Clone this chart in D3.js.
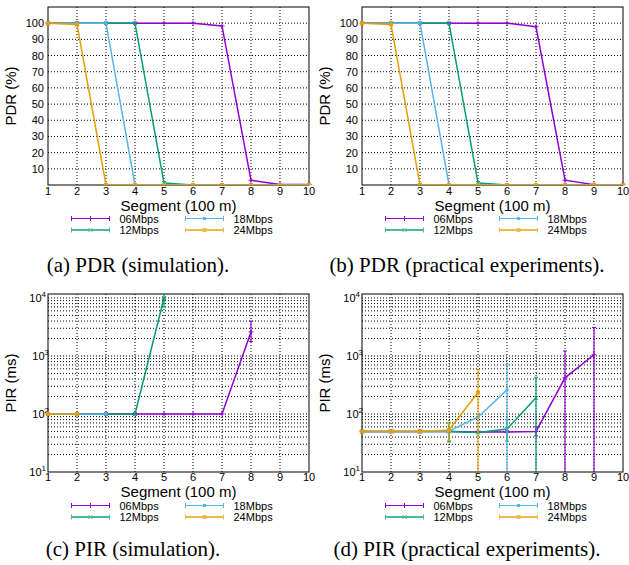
<!DOCTYPE html>
<meta charset="utf-8">
<style>
  body { margin: 0; background: #fff; }
  svg text { font-family: "Liberation Sans", Arial, sans-serif; fill: #000; }
  .caption { font-family: "Liberation Serif", "Times New Roman", serif !important; font-size: 21px; }
  .grid line { stroke: #000; stroke-width: 1; stroke-dasharray: 1,2; }
  .border { fill: none; stroke: #000; stroke-width: 1; }
  .tick-label { font-size: 11px; }
  .axis-label { font-size: 15px; }
  .legend text { font-size: 11px; }
</style>
<body>
<script src="https://d3js.org/d3.v7.min.js"></script>
<script>

// segments along the road (100 m each)
var segments = [1, 2, 3, 4, 5, 6, 7, 8, 9, 10];
var rateNames = ["06Mbps", "12Mbps", "18Mbps", "24Mbps"];
var rateColors = ["#9400d3", "#009e73", "#56b4e9", "#e69f00"];

// PDR (%) - simulation
var pdrSim06 = [100, 100, 100, 100, 100, 100, 98.3, 2.9, 0.3, 0.3];
var pdrSim12 = [100, 100, 100, 100, 1.2, 0, 0, 0, 0, 0];
var pdrSim18 = [100, 100, 100, 0, 0, 0, 0, 0, 0, 0];
var pdrSim24 = [100, 99.2, 0, 0, 0, 0, 0, 0, 0, 0];

// PDR (%) - practical experiments
var pdrExp06 = [100, 100, 100, 100, 100, 100, 97.8, 3, 0.2, 0.2];
var pdrExp12 = [100, 100, 100, 100, 1.2, 0, 0, 0, 0, 0];
var pdrExp18 = [100, 100, 100, 0, 0, 0, 0, 0, 0, 0];
var pdrExp24 = [100, 99.2, 0, 0, 0, 0, 0, 0, 0, 0];

// PIR (ms) - simulation (only segments that were reached)
var pirSim06 = [100, 100, 100, 100, 100, 100, 100, 2600];
var pirSim06Lo = [null, null, null, null, null, null, null, 1780];
var pirSim06Hi = [null, null, null, null, null, null, null, 4000];
var pirSim12 = [100, 100, 100, 100, 10000];
var pirSim12Lo = [null, null, null, null, 7000];
var pirSim12Hi = [null, null, null, null, 13000];
var pirSim18 = [100, 100, 100];
var pirSim24 = [100, 100];

// PIR (ms) - practical experiments
var pirExp06 = [50, 50, 50, 50, 49, 49, 50, 420, 1050];
var pirExp06Lo = [null, null, null, null, null, null, 42, 1, 1];
var pirExp06Hi = [null, null, null, null, null, null, 60, 1220, 3100];
var pirExp12 = [50, 50, 50, 50, 48, 55, 190];
var pirExp12Lo = [null, null, null, 33, null, 34, 1];
var pirExp12Hi = [null, null, null, 70, null, 80, 430];
var pirExp18 = [50, 50, 50, 51, 88, 260];
var pirExp18Lo = [null, null, null, null, null, 1];
var pirExp18Hi = [null, null, null, null, null, 700];
var pirExp24 = [50, 50, 50, 53, 235];
var pirExp24Lo = [null, null, null, 35, 1];
var pirExp24Hi = [null, null, null, 68, 580];

var svg = d3.select("body").append("svg")
    .attr("width", 629)
    .attr("height", 565);

function series(values, lo, hi) {
  return values.map(function(v, i) {
    return {x: segments[i], y: v, lo: lo ? lo[i] : null, hi: hi ? hi[i] : null};
  });
}

function drawMarker(g, k, cx, cy, color) {
  if (k === 0) {
    g.append("path").attr("d", "M" + (cx - 2.5) + "," + cy + "h5M" + cx + "," + (cy - 2.5) + "v5")
      .attr("stroke", color).attr("stroke-width", 1);
  } else if (k === 1) {
    g.append("path").attr("d", "M" + (cx - 2) + "," + (cy - 2) + "l4,4M" + (cx - 2) + "," + (cy + 2) + "l4,-4")
      .attr("stroke", color).attr("stroke-width", 1);
  } else {
    var s = k === 2 ? 3 : 4;
    g.append("rect").attr("x", cx - s / 2).attr("y", cy - s / 2)
      .attr("width", s).attr("height", s).attr("fill", color);
  }
}

var panelId = 0;
function drawPanel(p) {
  panelId++;
  var x = d3.scaleLinear().domain([1, 10]).range([p.left, p.right]);
  var y = p.log
      ? d3.scaleLog().domain([10, 11700]).range([p.bottom, p.top])
      : d3.scaleLinear().domain([0, 110]).range([p.bottom, p.top]);

  var g = svg.append("g");

  // grid
  var grid = g.append("g").attr("class", "grid");
  grid.selectAll(".gx").data(segments.slice(1, 9)).enter().append("line")
      .attr("x1", function(d) { return x(d); }).attr("x2", function(d) { return x(d); })
      .attr("y1", p.top).attr("y2", p.bottom);
  var yGrid = [];
  if (p.log) {
    [10, 100, 1000].forEach(function(dec) {
      for (var m = 1; m <= 9; m++) yGrid.push(dec * m);
    });
    yGrid.push(10000);
    yGrid = yGrid.filter(function(v) { return v > 10; });
  } else {
    yGrid = d3.range(10, 101, 10);
  }
  grid.selectAll(".gy").data(yGrid).enter().append("line")
      .attr("x1", p.left).attr("x2", p.right)
      .attr("y1", function(d) { return y(d); }).attr("y2", function(d) { return y(d); });

  // border
  g.append("rect").attr("class", "border")
      .attr("x", p.left).attr("y", p.top)
      .attr("width", p.right - p.left).attr("height", p.bottom - p.top);

  // x tick labels
  g.selectAll(".xt").data(segments).enter().append("text")
      .attr("class", "tick-label")
      .attr("x", function(d) { return x(d); })
      .attr("y", p.bottom + p.xTickGap)
      .attr("text-anchor", "middle")
      .text(function(d) { return d; });

  // y tick labels
  if (p.log) {
    [1, 2, 3, 4].forEach(function(e) {
      var t = g.append("text").attr("class", "tick-label")
          .attr("x", p.left + (e === 2 || e === 3 ? 1 : -2)).attr("y", y(Math.pow(10, e)) + 4)
          .attr("text-anchor", "end");
      t.append("tspan").text("10");
      t.append("tspan").attr("dy", -5).attr("font-size", "8px").text(e);
    });
  } else {
    g.selectAll(".yt").data(d3.range(10, 101, 10)).enter().append("text")
        .attr("class", "tick-label")
        .attr("x", p.left - 4)
        .attr("y", function(d) { return y(d) + 4; })
        .attr("text-anchor", "end")
        .text(function(d) { return d; });
  }

  // axis labels
  g.append("text").attr("class", "axis-label")
      .attr("x", (p.left + p.right) / 2).attr("y", p.bottom + p.segGap)
      .attr("text-anchor", "middle").text("Segment (100 m)");
  g.append("text").attr("class", "axis-label")
      .attr("transform", "translate(" + (p.left - 32) + "," + ((p.top + p.bottom) / 2) + ") rotate(-90)")
      .attr("text-anchor", "middle").text(p.yLabel);

  // data
  var clipId = "clip" + panelId;
  g.append("clipPath").attr("id", clipId).append("rect")
      .attr("x", p.left - 3).attr("y", p.top)
      .attr("width", p.right - p.left + 6).attr("height", p.bottom - p.top);
  var plot = g.append("g").attr("clip-path", "url(#" + clipId + ")");
  var line = d3.line().x(function(d) { return x(d.x); }).y(function(d) { return y(d.y); });

  p.series.forEach(function(data, k) {
    var color = rateColors[k];
    var sg = plot.append("g");
    data.forEach(function(d) {
      if (d.lo == null) return;
      var lo = Math.max(d.lo, 1);
      sg.append("line").attr("x1", x(d.x)).attr("x2", x(d.x))
          .attr("y1", y(lo)).attr("y2", y(d.hi))
          .attr("stroke", color).attr("stroke-width", 1.2);
      [lo, d.hi].forEach(function(v) {
        sg.append("line").attr("x1", x(d.x) - 2).attr("x2", x(d.x) + 2)
            .attr("y1", y(v)).attr("y2", y(v))
            .attr("stroke", color).attr("stroke-width", 1);
      });
    });
    sg.append("path").datum(data)
        .attr("d", line).attr("fill", "none")
        .attr("stroke", color).attr("stroke-width", 1.5);
    data.forEach(function(d) { drawMarker(sg, k, x(d.x), y(d.y), color); });
  });

  // legend
  var lg = g.append("g").attr("class", "legend");
  rateNames.forEach(function(name, k) {
    var col = k === 0 || k === 1 ? 0 : 1;
    var row = k === 0 || k === 2 ? 0 : 1;
    var x0 = p.left + 23.5 + col * 114;
    var ly = p.bottom + 33.5 + row * 11.5;
    var color = rateColors[k];
    var thick = k === 1 || k === 3;
    var item = lg.append("g").attr("opacity", thick ? 0.7 : 1);
    item.append("line").attr("x1", x0).attr("x2", x0 + 38).attr("y1", ly).attr("y2", ly)
        .attr("stroke", color).attr("stroke-width", thick ? 2 : 1);
    [x0, x0 + 38].forEach(function(cx) {
      item.append("line").attr("x1", cx).attr("x2", cx).attr("y1", ly - 2.5).attr("y2", ly + 2.5)
          .attr("stroke", color).attr("stroke-width", 1);
    });
    drawMarker(item, k, x0 + 19, ly, color);
    lg.append("text").attr("x", x0 + 48).attr("y", ly + 4).text(name);
  });

  // caption
  svg.append("text").attr("class", "caption")
      .attr("x", p.captionX).attr("y", p.captionY)
      .attr("text-anchor", "middle").text(p.caption);
}

drawPanel({
  left: 48, right: 309, top: 7, bottom: 185, log: false, yLabel: "PDR (%)", xTickGap: 9.5, segGap: 25.5,
  series: [series(pdrSim06), series(pdrSim12), series(pdrSim18), series(pdrSim24)],
  caption: "(a) PDR (simulation).", captionX: 138, captionY: 272
});
drawPanel({
  left: 362, right: 623, top: 7, bottom: 185, log: false, yLabel: "PDR (%)", xTickGap: 9.5, segGap: 25.5,
  series: [series(pdrExp06), series(pdrExp12), series(pdrExp18), series(pdrExp24)],
  caption: "(b) PDR (practical experiments).", captionX: 467, captionY: 272
});
drawPanel({
  left: 48, right: 309, top: 294, bottom: 472, log: true, yLabel: "PIR (ms)", xTickGap: 9, segGap: 24.5,
  series: [series(pirSim06, pirSim06Lo, pirSim06Hi), series(pirSim12, pirSim12Lo, pirSim12Hi),
           series(pirSim18), series(pirSim24)],
  caption: "(c) PIR (simulation).", captionX: 133, captionY: 556
});
drawPanel({
  left: 362, right: 623, top: 294, bottom: 472, log: true, yLabel: "PIR (ms)", xTickGap: 9, segGap: 24.5,
  series: [series(pirExp06, pirExp06Lo, pirExp06Hi), series(pirExp12, pirExp12Lo, pirExp12Hi),
           series(pirExp18, pirExp18Lo, pirExp18Hi), series(pirExp24, pirExp24Lo, pirExp24Hi)],
  caption: "(d) PIR (practical experiments).", captionX: 467, captionY: 556
});

</script>
</body>
